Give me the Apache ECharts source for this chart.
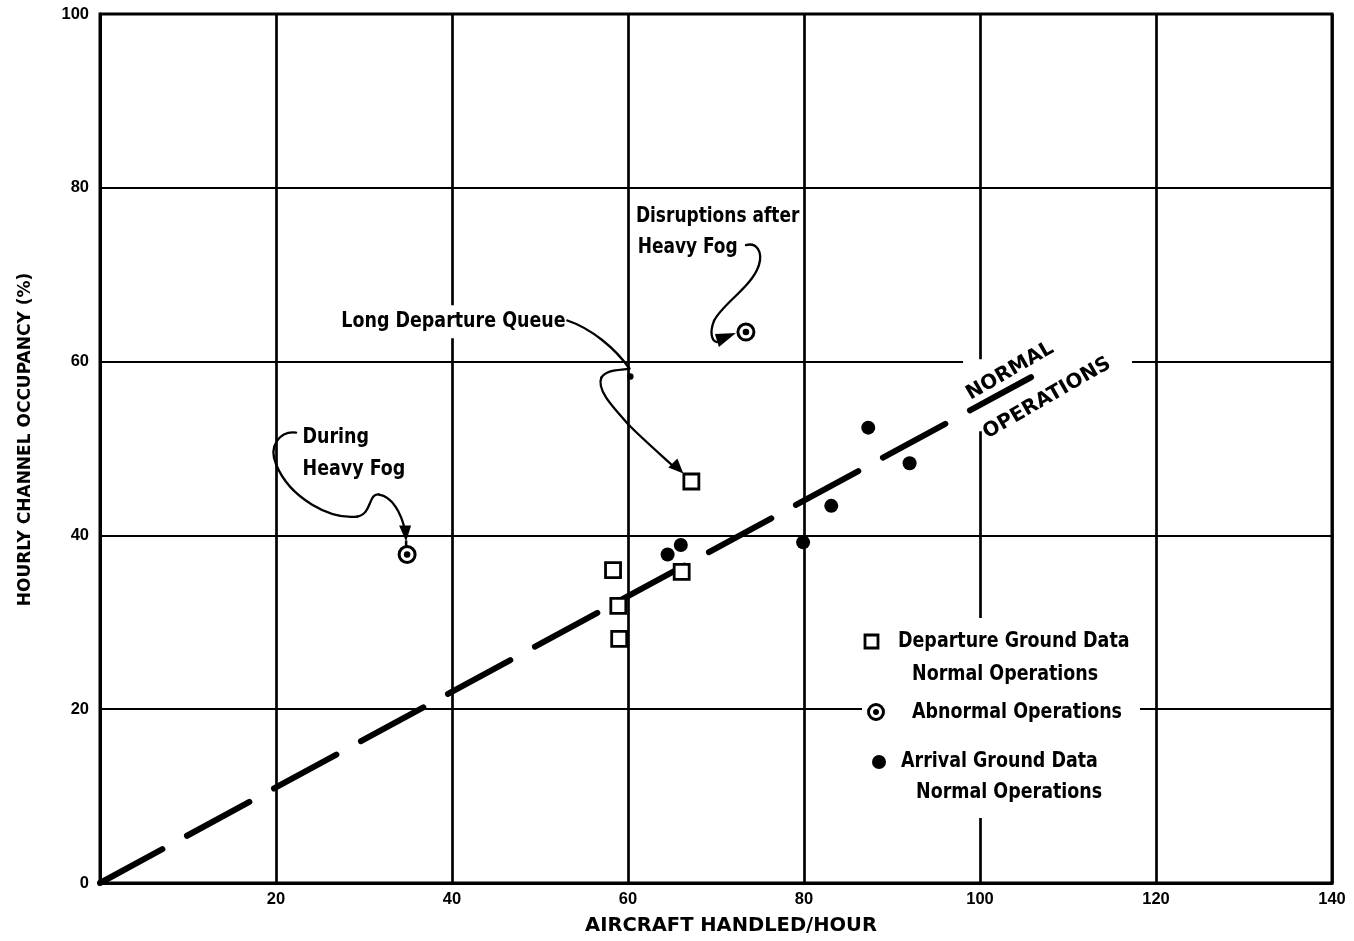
<!DOCTYPE html>
<html>
<head>
<meta charset="utf-8">
<script src="https://cdn.jsdelivr.net/npm/echarts@6/dist/echarts.min.js"></script>
<style>
  html, body { margin: 0; padding: 0; background: #fff; }
  #chart { width: 1354px; height: 941px; }
</style>
</head>
<body>
<div id="chart"></div>
<script>
// Axis ticks
const xTicks = [0, 20, 40, 60, 80, 100, 120, 140];
const yTicks = [0, 20, 40, 60, 80, 100];

// Aircraft handled per hour vs. hourly channel occupancy (%)
const departureNormal = [[58.3, 36.0], [58.9, 31.9], [59.0, 28.1], [66.1, 35.8], [67.2, 46.2]];
const abnormalOps = [[34.9, 37.8], [73.4, 63.4]];
const arrivalNormal = [[64.5, 37.8], [66.0, 38.9], [79.9, 39.2], [83.1, 43.4], [87.3, 52.4], [92.0, 48.3]];
const normalTrend = [[0, 0], [105.8, 58.2]];

const TICK_FONT = "'Liberation Sans', Arial, sans-serif";
const TITLE_FONT = "'DejaVu Sans', 'Liberation Sans', sans-serif";
const LETTER_FONT = "'DejaVu Sans Condensed', 'Liberation Sans Narrow', 'Roboto Condensed', Roboto, sans-serif";

const chart = echarts.init(document.getElementById('chart'), null, { renderer: 'canvas' });

function axisCommon(ticks, gridWidth) {
  return {
    type: 'value',
    min: ticks[0],
    max: ticks[ticks.length - 1],
    interval: ticks[1] - ticks[0],
    nameLocation: 'middle',
    axisLine: { show: true, lineStyle: { color: '#000', width: 3 } },
    axisTick: { show: false },
    splitLine: { show: true, lineStyle: { color: '#000', width: gridWidth } }
  };
}

const option = {
  animation: false,
  backgroundColor: '#fff',
  grid: { left: 100, right: 22, top: 14, bottom: 56, show: true, borderColor: '#000', borderWidth: 3 },
  xAxis: Object.assign(axisCommon(xTicks, 2.7), {
    name: 'AIRCRAFT HANDLED/HOUR',
    nameGap: 33,
    nameTextStyle: { fontFamily: TITLE_FONT, fontWeight: 'bold', fontSize: 19.5, color: '#000', padding: [0, 0, 0, 30] },
    axisLabel: {
      color: '#000', fontFamily: TICK_FONT, fontWeight: 'bold', fontSize: 16.5, margin: 8,
      formatter: v => (v === 0 ? '' : String(v))
    }
  }),
  yAxis: Object.assign(axisCommon(yTicks, 2.2), {
    name: 'HOURLY CHANNEL OCCUPANCY (%)',
    nameGap: 66,
    nameTextStyle: { fontFamily: TITLE_FONT, fontWeight: 'bold', fontSize: 17, color: '#000', padding: [0, 0, 0, 18] },
    axisLabel: { color: '#000', fontFamily: TICK_FONT, fontWeight: 'bold', fontSize: 16.5, margin: 11 }
  }),
  series: [
    {
      name: 'Normal Operations', type: 'line', data: normalTrend, symbol: 'none', silent: true, z: 10,
      lineStyle: { color: '#000', width: 6, type: [71, 28], cap: 'round' }
    },
    {
      name: 'Departure Ground Data', type: 'scatter', data: departureNormal, symbol: 'rect', symbolSize: 15, z: 12,
      itemStyle: { color: '#fff', borderColor: '#000', borderWidth: 2.8, opacity: 1 }
    },
    {
      name: 'Abnormal Operations', type: 'scatter', data: abnormalOps, symbol: 'circle', symbolSize: 16, z: 12,
      itemStyle: { color: '#fff', borderColor: '#000', borderWidth: 3, opacity: 1 }
    },
    {
      name: 'Abnormal Operations', type: 'scatter', data: abnormalOps, symbol: 'circle', symbolSize: 6.5, z: 13, silent: true,
      itemStyle: { color: '#000', opacity: 1 }
    },
    {
      name: 'Arrival Ground Data', type: 'scatter', data: arrivalNormal, symbol: 'circle', symbolSize: 14, z: 12,
      itemStyle: { color: '#000', opacity: 1 }
    }
  ]
};

chart.setOption(option);

// ---- annotations, leader curves and key ----
const toPx = p => chart.convertToPixel({ gridIndex: 0 }, p);

function label(text, at, opts) {
  opts = opts || {};
  const p = opts.pixel ? at : toPx(at);
  return {
    type: 'text', x: p[0], y: p[1], z: opts.z || 5,
    rotation: opts.rotation || 0,
    scaleX: opts.sx || 0.925,
    style: {
      text: text, fill: '#000',
      font: (opts.weight || 'bold') + ' ' + (opts.size || 21) + 'px ' + (opts.family || LETTER_FONT),
      align: opts.align || 'left', verticalAlign: 'middle',
      textAlign: opts.align || 'left', textVerticalAlign: 'middle',
      backgroundColor: opts.bg || null, padding: opts.padding || 0
    }
  };
}

// Chain of cubic curves, offsets given relative to the marker they point at
function leader(target, start, segs) {
  const t = toPx(target);
  const out = [];
  let cur = start;
  segs.forEach(s => {
    out.push({
      type: 'bezierCurve', z: 6, silent: true,
      shape: {
        x1: t[0] + cur[0], y1: t[1] + cur[1],
        cpx1: t[0] + s[0][0], cpy1: t[1] + s[0][1],
        cpx2: t[0] + s[1][0], cpy2: t[1] + s[1][1],
        x2: t[0] + s[2][0], y2: t[1] + s[2][1]
      },
      style: { stroke: '#000', lineWidth: 2.3, fill: null, lineCap: 'round' }
    });
    cur = s[2];
  });
  return out;
}

function arrowHead(target, pts) {
  const t = toPx(target);
  return {
    type: 'polygon', z: 7, silent: true,
    shape: { points: pts.map(q => [t[0] + q[0], t[1] + q[1]]) },
    style: { fill: '#000' }
  };
}

const fogPt = abnormalOps[0];
const disruptPt = abnormalOps[1];
const queuePt = departureNormal[4];
const trendEnd = toPx(normalTrend[1]);

const graphics = [];

// "During Heavy Fog"
graphics.push(label('During', [22.7, 51.3], { bg: '#fff', padding: [2, 3] }));
graphics.push(label('Heavy Fog', [22.7, 47.6], { bg: '#fff', padding: [2, 3] }));
graphics.push(...leader(fogPt, [-111, -122], [
  [[-127, -124], [-139, -109], [-131, -90]],
  [[-117, -56], [-77, -35], [-50, -38]],
  [[-35, -40], [-39, -62], [-28, -60]],
  [[-15, -58], [-6, -42], [-2, -24]]
]));
graphics.push(arrowHead(fogPt, [[-8, -29], [4, -29], [-1, -13]]));
graphics.push({
  type: 'line', z: 7, silent: true,
  shape: { x1: toPx(fogPt)[0] - 1, y1: toPx(fogPt)[1] - 14, x2: toPx(fogPt)[0] - 1, y2: toPx(fogPt)[1] - 8 },
  style: { stroke: '#000', lineWidth: 2.5 }
});

// "Long Departure Queue"
graphics.push(label('Long Departure Queue', [27.0, 64.6], { bg: '#fff', padding: [6, 4] }));
graphics.push(...leader(queuePt, [-124, -161], [
  [[-100, -153], [-76, -133], [-62, -113]],
  [[-69, -111], [-84, -113], [-90, -104]],
  [[-95, -92], [-80, -76], [-62, -56]],
  [[-48, -42], [-32, -28], [-20, -17]]
]));
graphics.push({
  type: 'circle', z: 7, silent: true,
  shape: { cx: toPx(queuePt)[0] - 61, cy: toPx(queuePt)[1] - 105, r: 3.2 },
  style: { fill: '#000' }
});
graphics.push(arrowHead(queuePt, [[-8, -8], [-14, -23], [-23, -14]]));

// "Disruptions after Heavy Fog"
graphics.push(label('Disruptions after', [60.9, 76.7], { sx: 0.9 }));
graphics.push(label('Heavy Fog', [61.1, 73.1], { sx: 0.9 }));
graphics.push(...leader(disruptPt, [0, -87], [
  [[11, -90], [17, -80], [13, -67]],
  [[6, -45], [-24, -28], [-32, -11]],
  [[-36, -1], [-35, 9], [-29, 10]]
]));
graphics.push(arrowHead(disruptPt, [[-31, 2], [-10, 1], [-27, 15]]));

// Trend label
graphics.push({
  type: 'rect', z: 4, silent: true,
  shape: { x: trendEnd[0] - 68, y: trendEnd[1] - 18, width: 169, height: 72 },
  style: { fill: '#fff' }
});
graphics.push(label('NORMAL', [trendEnd[0] - 21, trendEnd[1] - 6],
  { pixel: true, align: 'center', rotation: Math.PI / 6, weight: 'bold', size: 20, family: TITLE_FONT, sx: 1 }));
graphics.push(label('OPERATIONS', [trendEnd[0] + 16, trendEnd[1] + 21],
  { pixel: true, align: 'center', rotation: Math.PI / 6, weight: 'bold', size: 20, family: TITLE_FONT, sx: 1 }));

// Key
const K = { x: 862, y: 618 };
graphics.push({
  type: 'rect', z: 4, silent: true,
  shape: { x: K.x, y: K.y, width: 278, height: 200 },
  style: { fill: '#fff' }
});
graphics.push({
  type: 'rect', z: 8, silent: true,
  shape: { x: K.x + 3, y: K.y + 17, width: 13, height: 13 },
  style: { fill: '#fff', stroke: '#000', lineWidth: 2.8 }
});
graphics.push(label('Departure Ground Data', [K.x + 36, K.y + 24], { pixel: true, z: 8 }));
graphics.push(label('Normal Operations', [K.x + 50, K.y + 57], { pixel: true, z: 8 }));
graphics.push({
  type: 'circle', z: 8, silent: true,
  shape: { cx: K.x + 14, cy: K.y + 94, r: 7.5 },
  style: { fill: '#fff', stroke: '#000', lineWidth: 3 }
});
graphics.push({
  type: 'circle', z: 9, silent: true,
  shape: { cx: K.x + 14, cy: K.y + 94, r: 3 },
  style: { fill: '#000' }
});
graphics.push(label('Abnormal Operations', [K.x + 50, K.y + 95], { pixel: true, z: 8 }));
graphics.push({
  type: 'circle', z: 8, silent: true,
  shape: { cx: K.x + 17, cy: K.y + 144, r: 7 },
  style: { fill: '#000' }
});
graphics.push(label('Arrival Ground Data', [K.x + 39, K.y + 144], { pixel: true, z: 8 }));
graphics.push(label('Normal Operations', [K.x + 54, K.y + 175], { pixel: true, z: 8 }));

chart.setOption({ graphic: { elements: graphics } });
</script>
</body>
</html>
